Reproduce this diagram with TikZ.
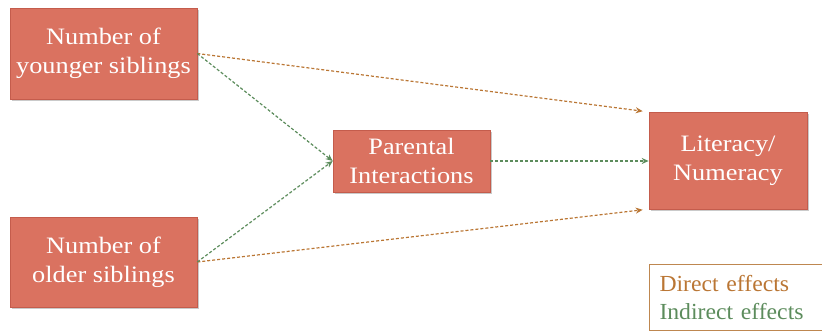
\documentclass[tikz,border=0pt]{standalone}
\usepackage{fontspec}
\setmainfont{Liberation Serif}
\newfontfamily\boxfont[FakeStretch=1.12]{Liberation Serif}
\newfontfamily\legfont[FakeStretch=1.03]{Liberation Serif}
\usetikzlibrary{arrows.meta,shadows,calc}
\definecolor{boxfill}{RGB}{218,114,96}
\definecolor{boxline}{RGB}{196,92,76}
\definecolor{dirc}{RGB}{186,118,52}
\definecolor{indc}{RGB}{92,140,92}
\definecolor{legline}{RGB}{190,135,80}
\tikzset{
  box/.style={draw=boxline, line width=0.6pt, fill=boxfill, text=white, align=center,
    font=\boxfont\fontsize{23.5}{29}\selectfont, inner sep=0pt,
    drop shadow={shadow xshift=1.5pt, shadow yshift=-2pt, opacity=0.35, fill=black!60}},
  direct/.style={draw=dirc, line width=1.2pt, dash pattern=on 3pt off 2pt, -{Stealth[length=7pt,width=6pt]}},
  indirect/.style={draw=indc, line width=1.2pt, dash pattern=on 3pt off 2pt, -{Stealth[length=7pt,width=6pt]}},
}
\begin{document}
\begin{tikzpicture}[x=1pt,y=-1pt]
\useasboundingbox (0,0) rectangle (822,331);
\clip (0,0) rectangle (822,331);
\node[box, minimum width=187pt, minimum height=91pt] (young) at (103.5,53.5) {Number of\\younger siblings};
\node[box, minimum width=187pt, minimum height=90pt] (old) at (103.5,262) {Number of\\older siblings};
\node[box, minimum width=157pt, minimum height=62pt] (par) at (411.5,161) {Parental\\Interactions};
\node[box, minimum width=158pt, minimum height=97pt] (lit) at (728,161) {Literacy/\\Numeracy};
\coordinate (litA) at ($(lit.north west)+(-6pt,1pt)$);
\coordinate (litB) at ($(lit.south west)+(-6pt,0pt)$);
\draw[direct] (young.east) -- (litA);
\draw[direct] (old.east) -- (litB);
\draw[indirect] (young.east) -- (par.west);
\draw[indirect] (old.east) -- (par.west);
\draw[indirect] (par.east) -- (lit.west);
\node[draw=legline, line width=1pt, anchor=north west, minimum width=190pt, minimum height=66pt,
  text width=170pt, align=left, inner xsep=10pt, inner ysep=0pt,
  font=\legfont\fontsize{23}{28}\selectfont] (legend) at (649,264)
  {\textcolor{dirc}{Direct effects}\\\textcolor{indc}{Indirect effects}};
\end{tikzpicture}
\end{document}
